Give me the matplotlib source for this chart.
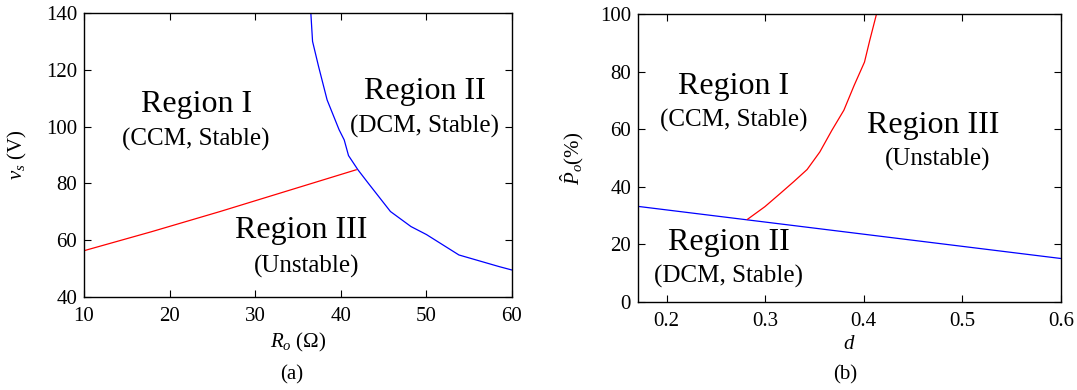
import matplotlib
matplotlib.use('Agg')
import matplotlib.pyplot as plt

plt.rcParams['font.family'] = ['Liberation Serif', 'DejaVu Serif']
plt.rcParams['mathtext.fontset'] = 'custom'
plt.rcParams['mathtext.rm'] = 'Liberation Serif'
plt.rcParams['mathtext.it'] = 'Liberation Serif:italic'

# (a) boundaries in the R_o - v_s plane
ro_dcm = [36.5, 36.7, 37.4, 38.4, 39.8, 40.4, 40.9, 42.0, 43.2, 45.8, 48.2, 50.0, 53.8, 58.5, 60.0]
vs_dcm = [140.0, 130.0, 121.2, 109.4, 98.9, 95.3, 89.8, 84.8, 80.1, 70.1, 64.8, 62.0, 54.8, 50.7, 49.5]
ro_stab = [10.0, 17.9, 25.9, 41.8]
vs_stab = [56.3, 63.0, 70.1, 84.8]

# (b) boundaries in the d - P_o plane
d_dcm = [0.171, 0.6]
po_dcm = [33.2, 15.1]
d_stab = [0.282, 0.2997, 0.3153, 0.329, 0.3425, 0.3554, 0.3676, 0.3798, 0.3902, 0.4007, 0.406, 0.4129]
po_stab = [28.7, 33.1, 37.7, 41.8, 46.0, 52.1, 59.6, 66.6, 75.2, 83.3, 90.8, 100.0]

fig = plt.figure(figsize=(10.77, 3.9), dpi=100)
ax1 = fig.add_axes([84 / 1077, 93 / 390, 428 / 1077, 284 / 390])
ax2 = fig.add_axes([638 / 1077, 88 / 390, 423 / 1077, 288 / 390])

for ax in (ax1, ax2):
    ax.tick_params(direction='in', top=True, right=True, length=5, width=0.8,
                   labelsize=15, pad=5)
    ax.tick_params(axis='x', pad=7)
    for s in ax.spines.values():
        s.set_linewidth(1.0)

ax1.plot(ro_dcm, vs_dcm, color='#0000ff', lw=0.9)
ax1.plot(ro_stab, vs_stab, color='#ff0000', lw=0.9)
ax1.set_xlim(10, 60)
ax1.set_ylim(40, 140)
ax1.set_xticks([10, 20, 30, 40, 50, 60])
ax1.set_yticks([40, 60, 80, 100, 120, 140])
ax1.set_xlabel(r'$R_o$ ($\Omega$)', fontsize=15, labelpad=4)
ax1.set_ylabel(r'$v_s$ (V)', fontsize=15, labelpad=12)
ax1.text(23.1, 107.7, 'Region I', fontsize=23, ha='center', va='center')
ax1.text(23.1, 95.3, '(CCM, Stable)', fontsize=18, ha='center', va='center')
ax1.text(49.8, 112.4, 'Region II', fontsize=23, ha='center', va='center')
ax1.text(49.8, 100.0, '(DCM, Stable)', fontsize=18, ha='center', va='center')
ax1.text(35.4, 63.3, 'Region III', fontsize=23, ha='center', va='center')
ax1.text(36.0, 50.9, '(Unstable)', fontsize=18, ha='center', va='center')

ax2.plot(d_dcm, po_dcm, color='#0000ff', lw=0.9)
ax2.plot(d_stab, po_stab, color='#ff0000', lw=0.9)
ax2.set_xlim(0.171, 0.6)
ax2.set_ylim(0, 100)
ax2.set_xticks([0.2, 0.3, 0.4, 0.5, 0.6])
ax2.set_xticklabels(['0.2', '0.3', '0.4', '0.5', '0.6'])
ax2.set_yticks([0, 20, 40, 60, 80, 100])
ax2.set_xlabel(r'$d$', fontsize=15, labelpad=3)
ax2.set_ylabel(r'$\hat{P}_o$(%)', fontsize=15, labelpad=10)
ax2.text(0.268, 74.9, 'Region I', fontsize=23, ha='center', va='center')
ax2.text(0.268, 62.9, '(CCM, Stable)', fontsize=18, ha='center', va='center')
ax2.text(0.470, 61.4, 'Region III', fontsize=23, ha='center', va='center')
ax2.text(0.475, 49.5, '(Unstable)', fontsize=18, ha='center', va='center')
ax2.text(0.263, 20.6, 'Region II', fontsize=23, ha='center', va='center')
ax2.text(0.263, 8.9, '(DCM, Stable)', fontsize=18, ha='center', va='center')

fig.text(292 / 1077, 1 - 375 / 390, '(a)', fontsize=15, ha='center', va='center')
fig.text(845 / 1077, 1 - 375 / 390, '(b)', fontsize=15, ha='center', va='center')

fig.savefig('out.png', dpi=100)
